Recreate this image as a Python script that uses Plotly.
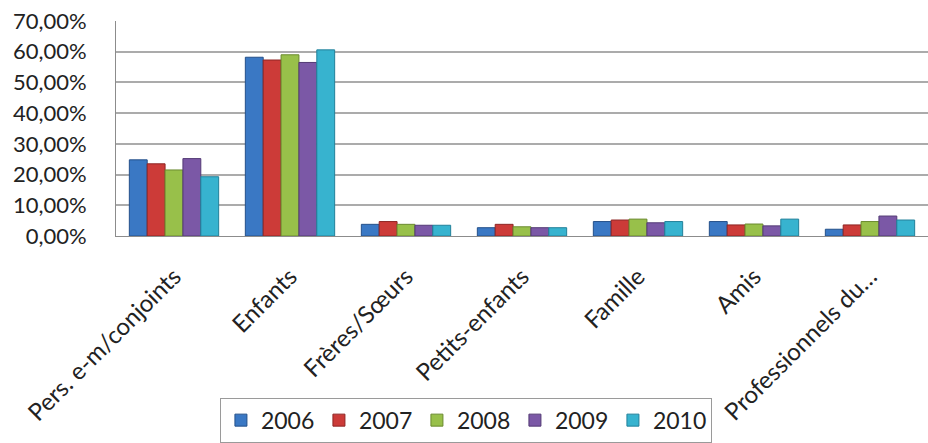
import plotly.graph_objects as go

categories = ["Pers. e-m/conjoints", "Enfants", "Frères/Sœurs", "Petits-enfants",
              "Famille", "Amis", "Professionnels du…"]
years = ["2006", "2007", "2008", "2009", "2010"]

v2006 = [0.248, 0.582, 0.038, 0.027, 0.047, 0.047, 0.022]
v2007 = [0.235, 0.573, 0.047, 0.038, 0.052, 0.036, 0.036]
v2008 = [0.215, 0.590, 0.038, 0.030, 0.055, 0.039, 0.047]
v2009 = [0.252, 0.565, 0.035, 0.027, 0.043, 0.033, 0.065]
v2010 = [0.193, 0.606, 0.035, 0.027, 0.047, 0.055, 0.052]

tick_vals = [0, 0.1, 0.2, 0.3, 0.4, 0.5, 0.6, 0.7]
tick_text = ["0,00%", "10,00%", "20,00%", "30,00%", "40,00%", "50,00%", "60,00%", "70,00%"]

series = [v2006, v2007, v2008, v2009, v2010]
fills = ["#3a78c4", "#cc3b38", "#98c04a", "#7b58a6", "#37b3cf"]
edges = ["#24508a", "#8e2523", "#6a8a2e", "#533a75", "#22809a"]

FONT = "Lato, Open Sans, sans-serif"

fig = go.Figure()
for name, vals, fc, ec in zip(years, series, fills, edges):
    fig.add_trace(go.Bar(
        x=categories, y=vals, name=name,
        marker=dict(color=fc, line=dict(color=ec, width=1)),
    ))

fig.update_layout(
    width=928, height=443,
    margin=dict(l=116, r=0, t=21, b=207),
    paper_bgcolor="white", plot_bgcolor="white",
    barmode="group", bargap=0.23, bargroupgap=0,
    font=dict(family=FONT, color="#222222"),
    showlegend=True,
    legend=dict(
        orientation="h",
        x=0.128, xanchor="left", y=-0.752, yanchor="top",
        bordercolor="#9a9a9a", borderwidth=1,
        font=dict(size=23, family=FONT, color="#222222"),
        entrywidth=53, entrywidthmode="pixels",
        itemwidth=30, traceorder="normal",
    ),
    xaxis=dict(
        tickangle=-45, tickfont=dict(size=24, family=FONT, color="#222222"),
        showline=True, linecolor="#8c8c8c", linewidth=1,
        ticks="", ticklabelstandoff=16,
        range=[-0.5, 6.5],
    ),
    yaxis=dict(
        range=[0, 0.7], tickvals=tick_vals, ticktext=tick_text,
        tickfont=dict(size=22, family=FONT, color="#222222"),
        showgrid=True, gridcolor="#ababab", gridwidth=1.5,
        showline=True, linecolor="#8c8c8c", linewidth=1,
        zeroline=False, ticks="", ticklabelstandoff=24,
        mirror=False,
    ),
)

fig.write_html("out.html")
